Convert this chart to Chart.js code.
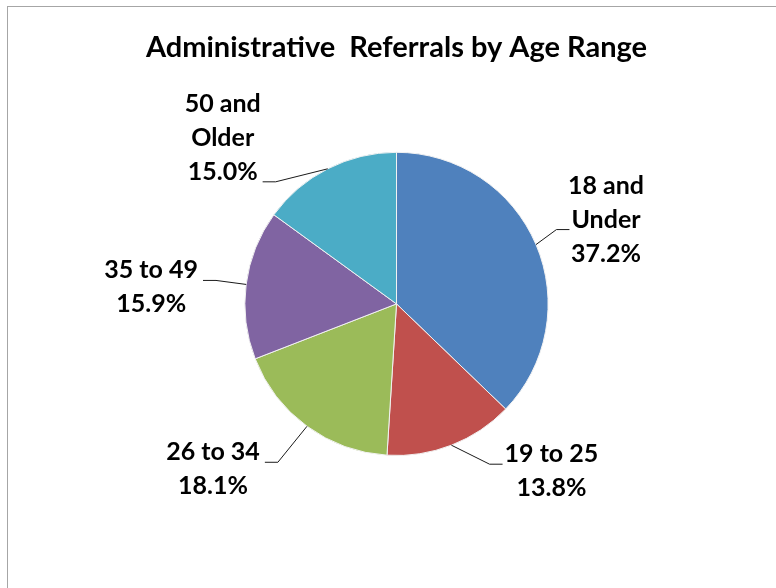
<!DOCTYPE html>
<html>
<head>
<meta charset="utf-8">
<script src="https://cdn.jsdelivr.net/npm/chart.js@4/dist/chart.umd.min.js"></script>
<style>
  html, body { margin: 0; padding: 0; background: #fff; }
  canvas { display: block; }
</style>
</head>
<body>
<canvas id="ageChart" width="776" height="588"></canvas>
<script>
// Chart data
const chartTitle = 'Administrative  Referrals by Age Range';
const categories = ['18 and Under', '19 to 25', '26 to 34', '35 to 49', '50 and Older'];
const percentages = [37.2, 13.8, 18.1, 15.9, 15.0];
const sliceColors = ['#4F81BD', '#C0504D', '#9BBB59', '#8064A2', '#4BACC6'];

// Label placement relative to the slice edge (Excel "best fit" look)
const labelLayout = [
    { dx: 70, dy: -25, lead: 1 },
    { dx: 100, dy: 26, lead: 0 },
    { dx: -94, dy: 43, lead: 0 },
    { dx: -95, dy: 3, lead: 0 },
    { dx: -105, dy: -31, lead: 2 }
];

const labelFont = 'bold 25px Lato, "Noto Sans", sans-serif';
const lineGap = 34;

// "18 and Under" -> ["18 and", "Under"]
function splitCategory(name) {
    const idx = name.indexOf(' and ');
    if (idx < 0) return [name];
    return [name.slice(0, idx + 4), name.slice(idx + 5)];
}

// Grey frame like the exported chart area
const framePlugin = {
    id: 'frame',
    beforeDraw(chart) {
        const ctx = chart.ctx;
        ctx.save();
        ctx.fillStyle = '#ffffff';
        ctx.fillRect(0, 0, chart.width, chart.height);
        ctx.strokeStyle = '#a6a6a6';
        ctx.lineWidth = 1;
        ctx.strokeRect(7.5, 6.5, chart.width + 20, chart.height + 20);
        ctx.restore();
    }
};

// Data labels with leader lines
const pieLabelPlugin = {
    id: 'pieLabels',
    afterDatasetsDraw(chart) {
        const ctx = chart.ctx;
        const meta = chart.getDatasetMeta(0);
        ctx.save();
        ctx.font = labelFont;
        ctx.textAlign = 'center';
        ctx.textBaseline = 'middle';

        meta.data.forEach((arc, i) => {
            const p = arc.getProps(['x', 'y', 'startAngle', 'endAngle', 'outerRadius'], true);
            const mid = (p.startAngle + p.endAngle) / 2;
            const ex = p.x + Math.cos(mid) * p.outerRadius;
            const ey = p.y + Math.sin(mid) * p.outerRadius;

            const lay = labelLayout[i];
            const lines = splitCategory(categories[i]).concat([percentages[i].toFixed(1) + '%']);
            const cx = ex + lay.dx;
            const cy = ey + lay.dy;
            const top = cy - (lines.length - 1) * lineGap / 2;

            const leadText = lines[lay.lead];
            const halfW = ctx.measureText(leadText).width / 2;
            const leadY = top + lay.lead * lineGap + 10;
            const onRight = cx > p.x;
            const endX = onRight ? cx - halfW - 2 : cx + halfW + 5;
            const elbowX = onRight ? endX - 13 : endX + 13;

            ctx.strokeStyle = '#1a1a1a';
            ctx.lineWidth = 1;
            ctx.beginPath();
            ctx.moveTo(ex, ey);
            ctx.lineTo(elbowX, leadY);
            ctx.lineTo(endX, leadY);
            ctx.stroke();

            ctx.fillStyle = '#000000';
            lines.forEach((txt, k) => {
                ctx.fillText(txt, cx, top + k * lineGap);
            });
        });
        ctx.restore();
    }
};

document.addEventListener('DOMContentLoaded', function () {
    const ctx = document.getElementById('ageChart').getContext('2d');

    new Chart(ctx, {
        type: 'pie',
        data: {
            labels: categories,
            datasets: [{
                data: percentages,
                backgroundColor: sliceColors,
                borderColor: '#f2f2f2',
                borderWidth: 1
            }]
        },
        options: {
            responsive: false,
            animation: false,
            layout: {
                padding: { top: 0, bottom: 132, left: 17, right: 0 }
            },
            plugins: {
                legend: { display: false },
                tooltip: { enabled: false },
                title: {
                    display: true,
                    text: chartTitle,
                    color: '#000000',
                    font: { family: 'Lato, "Noto Sans", sans-serif', size: 29, weight: 'bold' },
                    padding: { top: 30, bottom: 87 }
                }
            }
        },
        plugins: [framePlugin, pieLabelPlugin]
    });
});
</script>
</body>
</html>
